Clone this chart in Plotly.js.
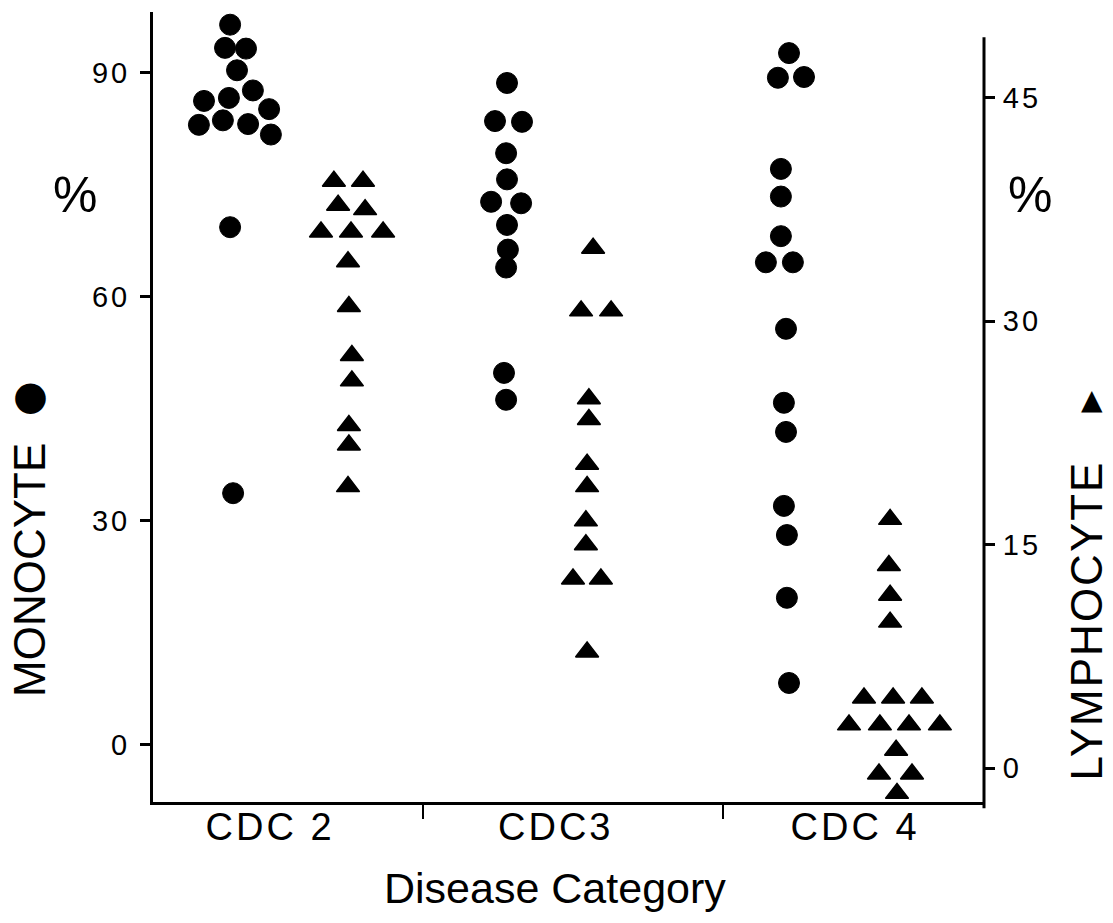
<!DOCTYPE html>
<html><head><meta charset="utf-8">
<script src="https://cdn.plot.ly/plotly-3.0.1.min.js"></script>
<style>html,body{margin:0;padding:0;background:#fff;} #chart{width:1113px;height:923px;}</style>
</head><body><div id="chart"></div>
<script>
// Category labels and their horizontal label positions (category units)
const categories = ['CDC 2', 'CDC3', 'CDC 4'];
const categoryLabelPos = [-0.01, 0.94, 1.94];
const categoryDividers = [0.5, 1.5];
const monoTicks = [0, 30, 60, 90];
const lymphTicks = [0, 15, 30, 45];

// Monocyte % (left axis, circles)
const cdc2MonoX = [-0.143, -0.16, -0.09, -0.12, -0.067, -0.23, -0.147, -0.013, -0.247, -0.167, -0.083, -0.007, -0.143, -0.133];
const cdc2Mono  = [96.4, 93.3, 93.2, 90.3, 87.6, 86.2, 86.6, 85.1, 83.0, 83.6, 83.1, 81.7, 69.3, 33.7];
const cdc3MonoX = [0.78, 0.74, 0.83, 0.777, 0.78, 0.727, 0.827, 0.78, 0.783, 0.777, 0.77, 0.777];
const cdc3Mono  = [88.6, 83.5, 83.4, 79.2, 75.7, 72.7, 72.5, 69.6, 66.3, 63.9, 49.8, 46.2];
const cdc4MonoX = [1.72, 1.683, 1.77, 1.693, 1.693, 1.693, 1.643, 1.733, 1.71, 1.703, 1.71, 1.703, 1.713, 1.713, 1.72];
const cdc4Mono  = [92.6, 89.3, 89.4, 77.1, 73.4, 68.1, 64.6, 64.6, 55.7, 45.8, 41.9, 32.0, 28.1, 19.7, 8.3];

// Lymphocyte % (right axis, triangles)
const cdc2LymphX = [0.203, 0.3, 0.217, 0.307, 0.16, 0.26, 0.367, 0.25, 0.253, 0.263, 0.263, 0.253, 0.253, 0.25];
const cdc2Lymph  = [39.4, 39.4, 37.8, 37.5, 36.0, 36.0, 36.0, 34.0, 31.0, 27.7, 26.0, 23.0, 21.7, 18.9];
const cdc3LymphX = [1.067, 1.027, 1.127, 1.053, 1.053, 1.047, 1.047, 1.043, 1.043, 1.0, 1.093, 1.047];
const cdc3Lymph  = [34.9, 30.7, 30.7, 24.8, 23.4, 20.4, 18.9, 16.6, 15.0, 12.7, 12.7, 7.8];
const cdc4LymphX = [2.057, 2.053, 2.057, 2.057, 1.97, 2.067, 2.163, 1.92, 2.023, 2.12, 2.223, 2.077, 2.02, 2.13, 2.08];
const cdc4Lymph  = [16.7, 13.6, 11.6, 9.8, 4.7, 4.7, 4.7, 2.9, 2.9, 2.9, 2.9, 1.2, -0.4, -0.4, -1.7];

const monoTrace = {
  type: 'scatter', mode: 'markers', name: 'Monocyte',
  x: [].concat(cdc2MonoX, cdc3MonoX, cdc4MonoX),
  y: [].concat(cdc2Mono, cdc3Mono, cdc4Mono),
  yaxis: 'y',
  marker: {symbol: 'circle', size: 21, color: '#000', line: {color: '#000', width: 1}},
  hoverinfo: 'y'
};
const lymphTrace = {
  type: 'scatter', mode: 'markers', name: 'Lymphocyte',
  x: [].concat(cdc2LymphX, cdc3LymphX, cdc4LymphX),
  y: [].concat(cdc2Lymph, cdc3Lymph, cdc4Lymph),
  yaxis: 'y2',
  marker: {symbol: 'triangle-up', size: 20, color: '#000', line: {color: '#000', width: 1.5}},
  hoverinfo: 'y'
};

const FONT = 'Liberation Sans, Arial, Helvetica, sans-serif';
function ann(text, x, y, size, extra) {
  return Object.assign({text: text, xref: 'paper', yref: 'paper', x: x, y: y,
    xanchor: 'center', yanchor: 'middle', showarrow: false,
    font: {size: size, family: FONT, color: '#000'}}, extra || {});
}
// category labels drawn under the axis at their category positions
const catAnnotations = categories.map(function (c, i) {
  return ann(c, categoryLabelPos[i], -0.0316, 38, {xref: 'x'});
});

const layout = {
  width: 1113, height: 923,
  margin: {l: 153, r: 129, t: 12, b: 121, pad: 0},
  paper_bgcolor: '#fff', plot_bgcolor: '#fff',
  showlegend: false,
  font: {family: FONT, color: '#000'},
  xaxis: {
    range: [-0.4, 2.37], showgrid: false, zeroline: false,
    showline: true, linewidth: 3, linecolor: '#000',
    tickmode: 'array', tickvals: categoryDividers, ticktext: ['', ''],
    ticks: 'outside', ticklen: 14, tickwidth: 2.5, tickcolor: '#000', showticklabels: false
  },
  yaxis: {
    range: [-7.63, 98.1], showgrid: false, zeroline: false,
    showline: true, linewidth: 3, linecolor: '#000',
    tickmode: 'array', tickvals: monoTicks, ticks: 'outside', ticklen: 10, tickwidth: 3, tickcolor: '#000',
    tickfont: {size: 29, family: FONT, color: '#000'}, ticklabelstandoff: 4
  },
  yaxis2: {
    range: [-2.28, 50.77], overlaying: 'y', side: 'right', showgrid: false, zeroline: false,
    showline: false,
    tickmode: 'array', tickvals: lymphTicks, ticks: 'outside', ticklen: 10, tickwidth: 3, tickcolor: '#000',
    tickfont: {size: 29, family: FONT, color: '#000'}, ticklabelstandoff: 2
  },
  shapes: [
    {type: 'line', xref: 'paper', yref: 'paper', x0: 1, x1: 1, y0: -0.008, y1: 0.968, line: {color: '#000', width: 3}}
  ],
  annotations: catAnnotations.concat([
    ann('%', -0.0939, 0.768, 50),
    ann('%', 1.0554, 0.768, 50),
    ann('MONOCYTE', -0.148, 0.2937, 44, {textangle: -90}),
    ann('●', -0.148, 0.515, 40, {font: {size: 40, family: 'DejaVu Sans', color: '#000'}}),
    ann('LYMPHOCYTE', 1.1245, 0.2304, 44, {textangle: -90}),
    ann('▲', 1.13, 0.509, 28, {font: {size: 28, family: 'DejaVu Sans', color: '#000'}}),
    ann('Disease Category', 0.4838, -0.1089, 43)
  ])
};

Plotly.newPlot('chart', [monoTrace, lymphTrace], layout, {displayModeBar: false, staticPlot: true}).then(function (gd) {
  gd.querySelectorAll('.annotation-text').forEach(function (t) {
    var s = t.textContent;
    if (categories.indexOf(s) >= 0) t.style.letterSpacing = '3px';
    if (s === 'LYMPHOCYTE') t.style.letterSpacing = '2px';
  });
  gd.querySelectorAll('.ytick text, .y2tick text').forEach(function (t) { t.style.letterSpacing = '3px'; });
});
</script>
</body></html>
